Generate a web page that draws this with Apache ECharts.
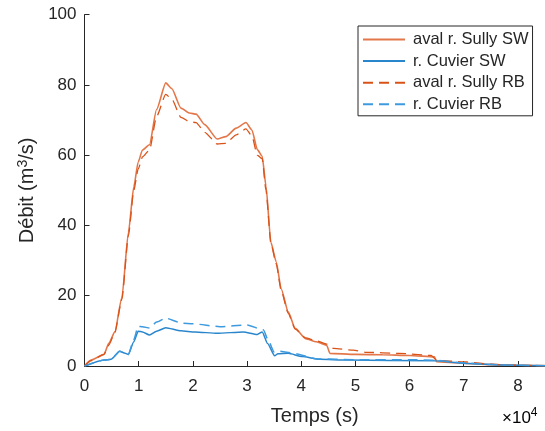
<!DOCTYPE html>
<html>
<head>
<meta charset="utf-8">
<script src="https://cdn.jsdelivr.net/npm/echarts@6/dist/echarts.min.js"></script>
<style>html,body{margin:0;padding:0;background:#fff}#c{width:545px;height:431px}</style>
</head>
<body>
<div id="c"></div>
<script>
// Time (s) and discharge (m3/s) for each series
var tSullySW = [0,1200,3600,4500,5600,6900,8100,9100,9900,10700,12000,13300,15000,16100,17800,19400,20600,22200,24500,26100,28000,29800,30900,31900,32800,33500,34400,35400,36300,37600,38900,40800,42800,44700,45300,50000,55000,60000,64600,65000,69700,74800,80000,85000];
var qSullySW = [0,1.7,3.3,6.5,9.7,19.5,38,51,58,61.5,63,73,80.6,79,73.4,72,71.7,68.7,64.6,65.3,67.7,69.3,67.2,61.6,59.7,51.2,35.2,29.6,22,15.4,10.7,7.8,6.9,5.9,3.6,3.3,3.2,3.0,2.6,1.2,0.8,0.4,0.2,0.1];
var tCuvierSW = [0,3650,4900,6500,7500,8100,9100,9900,10700,12000,13300,15000,17800,20400,24500,29300,31900,32800,33800,35100,35700,37600,40200,43400,48500,64600,71000,77000,85000];
var qCuvierSW = [0,1.7,1.9,4.2,3.6,3.3,6.9,9.9,9.7,8.8,9.9,10.9,10.0,9.7,9.3,9.7,9.0,9.7,6.4,2.9,3.5,3.6,2.7,1.9,1.7,1.5,0.7,0.3,0.1];
var tSullyRB = [0,1200,3600,4500,5600,6900,8100,9100,9900,10700,12000,13300,15000,16100,17800,19400,20600,22200,24500,26100,28000,29800,30900,31900,32800,33500,34400,35400,36300,37600,38900,40800,42800,44700,46000,49600,52000,58000,64000,65000,70000,75000,80000,85000];
var qSullyRB = [0,1.5,3.3,6.0,9.5,19,37,50,56,59.5,61.5,71,77.3,76,70.8,69.5,69.3,66.5,63.2,63.4,65.8,67.5,65.5,60,59,50,35,29,21.5,15,10.5,8,7.2,6.2,5,4.5,3.9,3.6,3.0,1.6,1.2,0.5,0.2,0.1];
var tCuvierRB = [0,3650,4900,6500,7500,8100,9100,9900,10700,12000,13300,15000,18000,20000,25000,30000,33000,34000,35000,36000,38000,43000,50000,60000,65000,70000,75000,80000,85000];
var qCuvierRB = [0,1.7,1.9,4.2,3.6,3.3,7.5,11.3,11.2,10.8,12.5,13.6,12.2,12.0,11.2,11.7,10.3,7.0,4.0,4.2,3.8,2.0,1.8,1.8,1.6,0.9,0.4,0.2,0.1];
var yTicks = [0,20,40,60,80,100];
var names = ['aval r. Sully SW','r. Cuvier SW','aval r. Sully RB','r. Cuvier RB'];

function pairs(t,q){return t.map(function(v,i){return [v,q[i]];});}
var ink = '#262626';
var chart = echarts.init(document.getElementById('c'), null, {renderer:'canvas'});
function ser(i,t,q,color,w,dash){
  return {name:names[i], type:'line', data:pairs(t,q), showSymbol:false, symbol:'none',
    smooth:0.2, smoothMonotone:'x',
    lineStyle:{color:color, width:w, type:dash?[10,6]:'solid'},
    itemStyle:{color:color}};
}
chart.setOption({
  animation:false,
  backgroundColor:'#fff',
  grid:{left:84.5, top:14.7, right:0, bottom:63.3, containLabel:false},
  xAxis:{
    type:'value', min:0, max:85000, interval:10000,
    name:'Temps (s)', nameLocation:'middle', nameGap:40,
    nameTextStyle:{fontFamily:'Liberation Sans', fontSize:20, color:ink},
    axisLine:{lineStyle:{color:ink, width:1}},
    axisTick:{inside:true, length:5, lineStyle:{color:ink}},
    axisLabel:{margin:12, fontFamily:'Liberation Sans', fontSize:17, color:ink, showMaxLabel:false,
      formatter:function(v){return (v%10000===0)?String(v/10000):'';}},
    splitLine:{show:false}
  },
  yAxis:{
    type:'value', min:yTicks[0], max:yTicks[yTicks.length-1], interval:20,
    name:'{a|Débit (m}{s|3}{a|/s)}', nameLocation:'middle', nameGap:38, nameRotate:90,
    nameTextStyle:{fontFamily:'Liberation Sans', fontSize:20, color:ink,
      rich:{a:{fontFamily:'Liberation Sans', fontSize:20, color:ink},
            s:{fontFamily:'Liberation Sans', fontSize:14, color:ink, verticalAlign:'top', padding:[0,0,8,0]}}},
    axisLine:{show:true, lineStyle:{color:ink, width:1}},
    axisTick:{show:true, inside:true, length:5, lineStyle:{color:ink}},
    axisLabel:{margin:8, fontFamily:'Liberation Sans', fontSize:17, color:ink},
    splitLine:{show:false}
  },
  legend:{
    orient:'vertical', left:358, top:26,
    data:names,
    itemWidth:42, itemHeight:14, itemGap:4.6,
    padding:[5,4,3,4],
    borderColor:ink, borderWidth:1, backgroundColor:'#fff',
    itemStyle:{opacity:0},
    textStyle:{fontFamily:'Liberation Sans', fontSize:16.5, color:ink, padding:[0,0,0,3]}
  },
  series:[
    ser(0,tSullySW,qSullySW,'#e4774a',1.6,false),
    ser(1,tCuvierSW,qCuvierSW,'#2a86cc',1.5,false),
    ser(2,tSullyRB,qSullyRB,'#d95319',1.3,true),
    ser(3,tCuvierRB,qCuvierRB,'#3d9ade',1.5,true)
  ],
  graphic:[{
    type:'text', left:502, top:407,
    style:{text:'{x|×}{b|10}{s|4}', rich:{
      x:{fontFamily:'Liberation Sans', fontSize:17, color:'#555'},
      b:{fontFamily:'Liberation Sans', fontSize:17, color:ink},
      s:{fontFamily:'Liberation Sans', fontSize:12, color:ink, verticalAlign:'top', padding:[0,0,10,0]}}}
  }]
});
</script>
</body>
</html>
